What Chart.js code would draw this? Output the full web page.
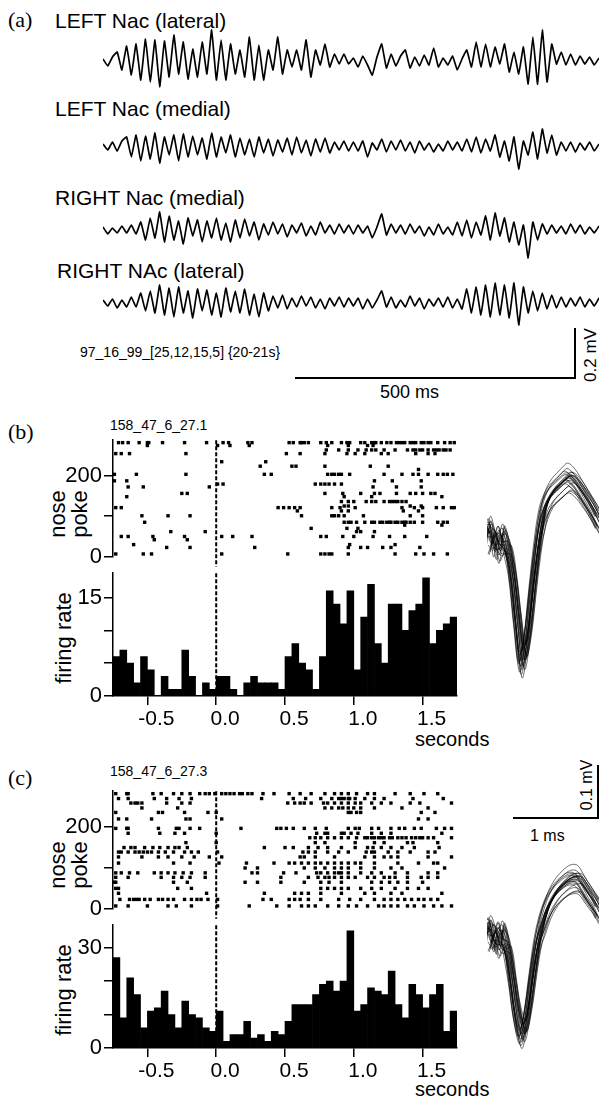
<!DOCTYPE html>
<html>
<head>
<meta charset="utf-8">
<script src="https://cdn.jsdelivr.net/npm/chart.js@4.4.1/dist/chart.umd.min.js"></script>
<style>
body { margin: 0; background: #fff; }
#page { position: relative; width: 599px; height: 1097px; overflow: hidden; font-family: Arial, "Liberation Sans", sans-serif; color: #000; }
canvas { position: absolute; }
.t { position: absolute; white-space: nowrap; line-height: 1; transform: translateY(-50%); }
.pl { font-family: "Times New Roman", "Liberation Serif", serif; font-size: 22px; }
.rot { position: absolute; white-space: nowrap; line-height: 1; transform: translate(-50%, -50%) rotate(-90deg); }
.sb { position: absolute; background: #000; }
</style>
</head>
<body>
<div id="page">
  <div class="t pl" style="left:8px;top:20px">(a)</div>
  <div class="t" style="left:55px;top:20px;font-size:21px">LEFT Nac (lateral)</div>
  <div class="t" style="left:55px;top:108px;font-size:21px">LEFT Nac (medial)</div>
  <div class="t" style="left:55px;top:197px;font-size:21px">RIGHT Nac (medial)</div>
  <div class="t" style="left:57px;top:270px;font-size:21px">RIGHT NAc (lateral)</div>
  <div class="t" style="left:80px;top:352px;font-size:14px">97_16_99_[25,12,15,5] {20-21s}</div>
  <div class="sb" style="left:295px;top:377px;width:281px;height:2px"></div>
  <div class="sb" style="left:574px;top:328px;width:2px;height:51px"></div>
  <div class="t" style="left:380px;top:392px;font-size:18px">500 ms</div>
  <div class="rot" style="left:590px;top:355px;font-size:17px">0.2 mV</div>

  <div class="t pl" style="left:8px;top:432px">(b)</div>
  <div class="t" style="left:110px;top:425px;font-size:14px">158_47_6_27.1</div>
  <div class="rot" style="left:58px;top:514px;font-size:22px">nose</div>
  <div class="rot" style="left:80px;top:514px;font-size:22px">poke</div>
  <div class="rot" style="left:64px;top:638px;font-size:22px">firing rate</div>
  <div class="t" style="left:415px;top:739px;font-size:20px">seconds</div>

  <div class="rot" style="left:587px;top:785px;font-size:16px">0.1 mV</div>
  <div class="sb" style="left:513px;top:817px;width:86px;height:2px"></div>
  <div class="sb" style="left:597px;top:765px;width:2px;height:54px"></div>
  <div class="t" style="left:530px;top:836px;font-size:16px">1 ms</div>

  <div class="t pl" style="left:8px;top:778px">(c)</div>
  <div class="t" style="left:110px;top:771px;font-size:14px">158_47_6_27.3</div>
  <div class="rot" style="left:58px;top:865px;font-size:22px">nose</div>
  <div class="rot" style="left:80px;top:865px;font-size:22px">poke</div>
  <div class="rot" style="left:64px;top:990px;font-size:22px">firing rate</div>
  <div class="t" style="left:415px;top:1089px;font-size:20px">seconds</div>
</div>

<script type="text/javascript">
// LFP traces, successive peaks/troughs, px of deflection (up = +)
var lfpLeftLat = [3,-4,5, 10,-8,16,-13, 18,-18,23,-20,22,-25,21,-15,27,-12,20,-17,13,-15,20,-12,32,-18,22,-18,18,-12,12,-15,25,-18,17,
  -18,12,-8,25,-12,12,-5,12,-8,22,-15,12,-3,18,-5,8,-2,8,-2, 4,-5,6,-3,-13,5,18,-6,8,-4,6,
  12,-6,5,-4,7,-3,14,-5,4,-3,6,-8,3,12,-5, 20,-5,18,-5,15,-2,18,-10,10,-12,15,-22,25,-22,32,-20,18,-2,10, -3,8,-3,6,-2,5,-3,4];
var lfpLeftMed = [3,-3,5,-4,6, 10,-10,12,-14,11,-12,14,-16,10,-8,12,-14,13,-10,11,-8,9,-12,14,-10,10,-6,12,-10,9,-8,8,-10,10,
  -6,8,-9,7,-5,9,-8,10,-6,7,-9,8,-5,9,-6,5,-3,6,-4, 5,-4,6,-10,4,-3,8,-5,6,-3,7,-4,5,-6,6,-3,4,-5,3,-4,6,-3,5,-4,8,-5,
  10,-6,8,-4,12,-10,6,-14,10,-22,6,-8,15,-12,18,-6,12,-8,5, -4,5,-5,4,-3,5,-4,3];
var lfpRightMed = [3,-4,2,-3,4,-3,5,-4, 8,-10,12,-8,18,-12,14,-10,9,-14,12,-6,10,-12,9,-8,12,-10,7,-12,10,-8,11,-6,8,-10,
  6,-5,8,-4,6,-7,5,-3,7,-6,4,-5,8,-3,5,-4,6,-3,5, -4,5,-3,4,-8,3,16,-5,6,-3,5,-4,6,-3,4,-6,3,-5,6,-4,3,-5,8,-6,
  10,-8,8,-5,14,-10,17,-6,12,-12,8,-15,5,-28,8,-10,6,-4,5,-3,4, -4,6,-3,5,-4,3,-3,4];
var lfpRightLat = [3,-3,4,-5,3,-4,6,-4, 10,-8,12,-10,18,-12,15,-14,16,-10,12,-15,14,-8,13,-12,10,-14,15,-9,12,-10,14,-12,9,-14,10,-8,
  7,-5,8,-6,5,-4,7,-3,6,-5,4,-6,5,-3,6,-4,5, -3,5,-6,4,-5,3,12,-4,6,-5,3,-4,7,-3,5,-6,4,-3,5,-4,6,-5,4,-6,
  14,-10,16,-12,18,-14,20,-12,18,-15,20,-22,16,-10,12,-8,10,-6,8,-5,6, -4,5,-3,6,-4,4,-3,5];

// peri-event histograms, 50 bins of 50 ms from -0.75 s
var rateB = [6,7,5,2,6,4,0,3,1,1, 7,3,0,2,1,3,3,1,0,2, 3,2,2,2,1,6,8,5,4,1, 6,16,14,11,16,4,12,17,8,5, 14,14,10,13,14,18,8,10,11,12];
var rateC = [27,9,21,16,6,11,12,17,10,6, 14,10,9,6,5,11,2,4,4,8, 3,4,2,5,4,8,13,13,13,16, 19,20,17,20,35,11,13,18,17,16, 23,13,9,19,16,12,16,19,5,11];
var timeTicks = [-0.5, 0, 0.5, 1, 1.5];

// rasters: [nose poke #, spike times in 1/100 s]
var rasterB = [
 [281,[-71,-68,-64,-56,-50,-49,-39,-23,-7,5,9,23,26,53,56,61,62,64,67,76,80,84,91,95,97,105,108,113,115,116,120,124,127,131,133,135,137,141,143,145,149,151,154,156,161,166,170,173]],
 [274,[-50,1,10,24,81,96,110,114]],
 [263,[80,89,96,103,109,113,116,122,130,139,143,145,148,150,154,158,160,162,165,167,170]],
 [254,[-73,-69,-63,-22,51,61,79,95,101,108,120,125,145,154,159]],
 [234,[4,36]],
 [223,[32,55,58,79,112,125]],
 [215,[147]],
 [203,[-74,-58,-22,35,40,81,84,86,89,91,97,122,135,143,147,154,161,165,168,172]],
 [187,[-74,-65,115,128,149]],
 [179,[1,5,72,76,79,82,86,91]],
 [172,[-64,-53,-5,114,131,149]],
 [156,[-25,-21,79,92,105,115,119,131,141,145,150,156,159]],
 [148,[-65,93,113,164]],
 [136,[91,96,100,109,113,116,122,126,128,130,132,135,138]],
 [125,[93,96,141,149]],
 [121,[-73,-69,45,49,53,57,61,84,90,101,135,144,150,160,165,171,173]],
 [113,[59,91,96,136,147]],
 [101,[-54,-35,-19,62,84,86,89,93,107,141,150]],
 [85,[-52,93,96,98,102,108,113,115,119,121,124,126,127,130,132,135,137,138,141,144,150,161,165,168]],
 [78,[137,164]],
 [70,[69,95,103]],
 [62,[-33,-8,102,105,115]],
 [50,[-69,-64,-46,-23,4,12,26,76,80,92,100,114,126,137,153]],
 [42,[-45,-21]],
 [30,[-60,97,130]],
 [23,[-36,-19,28,96,105,110,121,127,148]],
 [7,[-73,-53,-47,4,52,76,79,82,84,96,130,145,151,158,168]]
];
var rasterC = [
 [282,[-73,-65,-64,-46,-40,-31,-25,-19,-12,-8,-5,-1,4,7,10,13,17,19,23,26,34,42,53,61,69,79,86,91,96,102,110,115,130,141,151,161]],
 [270,[-71,-64,-45,-36,-27,-18,33,56,65,76,84,89,91,93,96,97,101,108,115,122,143,165]],
 [259,[-62,-59,-57,-54,-36,-25,-19,52,57,61,64,69,78,81,86,91,96,101,105,113,120,127,141,148,171]],
 [247,[-54,-28,79,84,89,92,96,100,105,115,135,154]],
 [236,[-73,-42,-39,-23,-6,0,96,98,102,105,149,159]],
 [220,[-71,-65,-47,-22,-19,4,147,154]],
 [197,[-73,-65,-64,-42,-29,-27,-19,-12,18,44,47,51,56,64,72,80,96,101,104,113,118,127,133,137,144,149,160,166,171]],
 [185,[-64,-41,-30,-23,0,73,79,81,91,93,98,103,113,120,127,164]],
 [174,[68,72,76,81,86,91,96,102,108,110,113,115,118,120,122,126,128,132,135,138,142,145,148,150,154,158,171]],
 [162,[-22,0,72,79,101,115,122,139,143,161]],
 [150,[-67,-62,-59,-52,-46,-41,-35,-30,-27,-21,35,50,56,67,74,81,91,101,110,114,120,127,135,144,162]],
 [139,[-71,-69,-64,-59,-56,-53,-50,-47,-42,-37,-31,-23,-18,-13,1,63,67,72,81,89,96,109,113,115,125,132,141,154,159]],
 [127,[-71,-54,-42,-35,-25,-16,-5,4,61,64,72,86,108,115,122,127,132,154,171]],
 [112,[-71,-31,-19,2,22,42,53,57,62,67,72,76,81,86,91,96,101,105,115,132,147,158,161]],
 [100,[21,30,64,72,79,86,91,96,105,115,127,135,166]],
 [88,[-73,-69,-63,-57,-45,-40,-35,-30,-24,-18,-8,26,30,49,58,73,76,81,86,89,91,96,105,113,120,130,139,154,161]],
 [77,[-73,-64,-40,-31,-25,-19,-8,47,67,74,79,82,86,91,96,101,110,115,122,126,130,139,149,154,161]],
 [65,[-74,-73,-31,-21,21,30,47,64,76,82,91,113,120,126,132,139,150]],
 [50,[-73,-71,-28,-18,76,81,86,91,96,105,113,120,130,139,147,154]],
 [38,[-71,-7,35,57,62,67,76,91,108,115,127,135,164]],
 [23,[-70,-63,-60,-58,-56,-52,-48,-42,-39,-35,-31,-23,-18,-14,-11,-6,1,34,40,53,57,61,67,76,89,97,105,115,122,127,132,137,142,147,151,156,161]],
 [7,[-73,-64,-50,-35,-29,-18,1,24,44,53,62,67,72,81,89,96,102,110,118,122,127,132,139,144,151,158,164,171]]
];

// unit waveforms: mean shape (px, up = +) sampled every ~5 px,
// per-spike [shift, gain, 5 baseline offsets, offset of the positive lobe]
var waveB = [0,5,-5,0,-8,-35,-82,-120,-95,-48,-5,25,40,48,53,58,62,59,53,45,37,28,18];
var waveC = [0,3,-3,0,-12,-45,-80,-97,-75,-38,-5,15,30,40,47,52,56,58,57,50,42,35,25];
var spikeVar = [
 [0,1.00,5,-8,12,3,-2,0],[0.6,0.95,-12,4,-6,10,2,6],[-0.4,1.05,15,10,-3,-8,4,-5],[0.2,0.9,-5,-15,8,6,-5,8],
 [-0.6,1.1,10,2,16,-4,3,-8],[0.4,1.0,-15,-6,-10,12,-3,3],[0,0.92,18,12,5,-2,6,-10],[-0.2,1.08,-8,14,-14,4,-6,10],
 [0.8,0.97,3,-10,10,-12,2,-3],[-0.8,1.03,-18,6,2,14,-4,5],[0.3,0.88,12,-12,-5,8,5,-6],[-0.3,1.12,-3,18,12,-6,-2,2],
 [0.5,1.0,8,-3,-16,-10,4,-12],[-0.5,0.94,-10,8,14,2,-5,9],[0.1,1.06,14,-14,4,16,3,-2],[0.7,0.98,-6,2,-8,-14,-6,7],
 [-0.7,1.02,6,16,-12,10,2,-7],[0.2,0.9,-14,-4,18,-2,6,4],[-0.1,1.15,2,10,-2,-16,-3,-9],[0.6,0.86,16,-16,6,6,4,11],
 [-0.4,1.0,-2,4,8,-8,-4,-4],[0.4,1.08,10,-8,-18,14,5,1],[-0.6,0.96,-16,12,0,-4,-2,6],[0,1.04,4,-2,10,12,-5,-11]
];

Chart.defaults.font.family = 'Arial, "Liberation Sans", sans-serif';
Chart.defaults.color = '#000';
Chart.defaults.animation = false;
Chart.defaults.responsive = false;
Chart.defaults.plugins.legend.display = false;
Chart.defaults.plugins.tooltip.enabled = false;

var page = document.getElementById('page');
function makeCanvas(left, top, w, h) {
  var c = document.createElement('canvas');
  c.width = w; c.height = h;
  c.style.left = left + 'px'; c.style.top = top + 'px';
  page.appendChild(c);
  return c;
}

// dashed line at t = 0
var zeroLine = {
  id: 'zeroLine',
  afterDatasetsDraw: function(chart, args, opts) {
    if (!opts.on) return;
    var x = chart.scales.x.getPixelForValue(0);
    var c = chart.ctx;
    c.save();
    c.strokeStyle = '#000'; c.lineWidth = 2; c.setLineDash([4, 2]);
    c.beginPath();
    c.moveTo(x, chart.chartArea.top);
    c.lineTo(x, chart.chartArea.bottom + (opts.extra || 0));
    c.stroke();
    c.restore();
  }
};
Chart.register(zeroLine);

// (a) LFP traces
var traceMid = [62, 147, 230, 303];
[lfpLeftLat, lfpLeftMed, lfpRightMed, lfpRightLat].forEach(function(tr, k) {
  var cv = makeCanvas(103, traceMid[k] - 40, 496, 80);
  new Chart(cv, {
    type: 'line',
    data: { datasets: [{
      data: tr.map(function(v, i) { return { x: i, y: v }; }),
      borderColor: '#000', borderWidth: 1.7, pointRadius: 0, tension: 0.1, clip: false
    }] },
    options: {
      layout: { padding: 0 },
      scales: {
        x: { type: 'linear', display: false, min: 0, max: tr.length - 1 },
        y: { display: false, min: -40, max: 40 }
      }
    }
  });
});

function yAxis(max, ticks, shown) {
  return {
    min: 0, max: max,
    afterBuildTicks: function(s) { s.ticks = ticks.map(function(v) { return { value: v }; }); },
    afterFit: function(s) { s.width = 73; },
    ticks: { callback: function(v) { return shown.indexOf(v) >= 0 ? String(v) : ''; }, font: { size: 22 }, color: '#000', padding: 2 },
    grid: { drawOnChartArea: false, tickLength: 9, color: '#000', lineWidth: 1.5 },
    border: { color: '#000', width: 1.5 }
  };
}

function panel(rows, rates, p) {
  // raster
  var pts = [];
  rows.forEach(function(r) {
    r[1].forEach(function(t) { pts.push({ x: t / 100, y: r[0] }); });
  });
  var rc = makeCanvas(40, p.rTop - 12, 422, p.rBot - p.rTop + 24);
  new Chart(rc, {
    type: 'scatter',
    data: { datasets: [{ data: pts, pointStyle: 'rect', pointRadius: 2.4, backgroundColor: '#000', borderWidth: 0, clip: false }] },
    options: {
      layout: { padding: { top: 12, bottom: 12, right: 5, left: 0 } },
      plugins: { zeroLine: { on: true, extra: 10 } },
      scales: {
        x: { type: 'linear', display: false, min: -0.75, max: 1.75 },
        y: yAxis(p.rMax, [0, 100, 200], [0, 200])
      }
    }
  });
  // histogram
  var hc = makeCanvas(40, p.hTop - 12, 422, p.hBot - p.hTop + 12 + 36);
  new Chart(hc, {
    type: 'bar',
    data: { datasets: [{
      data: rates.map(function(v, i) { return { x: -0.725 + 0.05 * i, y: v }; }),
      backgroundColor: '#000', borderWidth: 0, barPercentage: 1, categoryPercentage: 1
    }] },
    options: {
      layout: { padding: { top: 12, bottom: 0, right: 5, left: 0 } },
      plugins: { zeroLine: { on: true } },
      scales: {
        x: {
          type: 'linear', min: -0.75, max: 1.75, offset: false,
          afterBuildTicks: function(s) { s.ticks = timeTicks.map(function(v) { return { value: v }; }); },
          afterFit: function(s) { s.height = 36; },
          ticks: { callback: function(v) { return v.toFixed(1); }, font: { size: 21 }, color: '#000', padding: 2, labelOffset: 9, maxRotation: 0, autoSkip: false },
          grid: { offset: false, drawOnChartArea: false, tickLength: 9, color: '#000', lineWidth: 1.5 },
          border: { color: '#000', width: 1.5 }
        },
        y: yAxis(p.hMax, p.hTicks, p.hShown)
      }
    }
  });
}

panel(rasterB, rateB, { rTop: 437, rBot: 560, rMax: 287, hTop: 570, hBot: 696, hMax: 18.7, hTicks: [0, 5, 10, 15], hShown: [0, 15] });
panel(rasterC, rateC, { rTop: 788, rBot: 912, rMax: 288, hTop: 922, hBot: 1048, hMax: 36.7, hTicks: [0, 10, 20, 30], hShown: [0, 30] });

// overlaid spike waveforms
function waveChart(wave, top, h, base) {
  var sets = spikeVar.map(function(s) {
    return {
      data: wave.map(function(v, i) {
        var late = i >= 11 ? s[7] : (i >= 10 ? s[7] / 2 : 0);
        return { x: i + s[0], y: v * s[1] + (i < 5 ? s[2 + i] : 0) + late };
      }),
      borderColor: 'rgba(0,0,0,0.7)', borderWidth: 0.8, pointRadius: 0, tension: 0.35, clip: false
    };
  });
  var cv = makeCanvas(487, top, 112, h);
  new Chart(cv, {
    type: 'line',
    data: { datasets: sets },
    options: {
      layout: { padding: 0 },
      scales: {
        x: { type: 'linear', display: false, min: 0, max: wave.length - 1 },
        y: { display: false, min: -(top + h - base), max: base - top }
      }
    }
  });
}
waveChart(waveB, 440, 260, 540);
waveChart(waveC, 840, 240, 937);
</script>
</body>
</html>
